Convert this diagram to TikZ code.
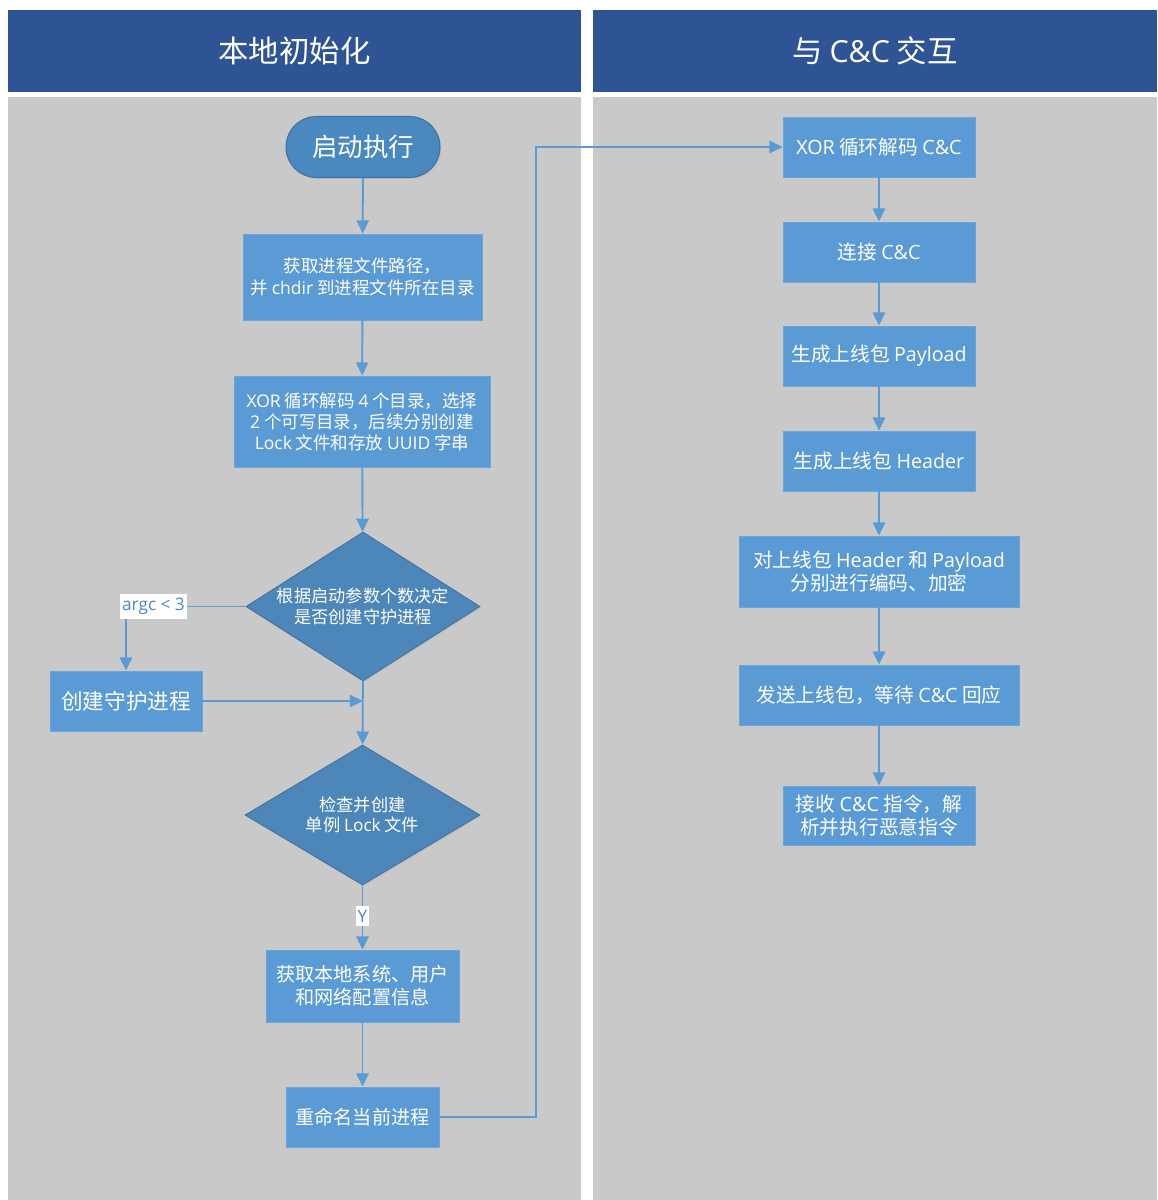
\documentclass[tikz,border=0pt]{standalone}
\usepackage{fontspec}
\setmainfont{Noto Sans CJK SC}
\newfontfamily\latinfont{Open Sans}
\newcommand\la[1]{{\latinfont #1}}
\usetikzlibrary{shapes.geometric,arrows.meta,shadows}

\definecolor{hdrBlue}{HTML}{2F5496}
\definecolor{laneGray}{HTML}{C9C9C9}
\definecolor{boxBlue}{HTML}{5B9BD5}
\definecolor{boxEdge}{HTML}{6AA5DB}
\definecolor{diaBlue}{HTML}{4D87BA}
\definecolor{diaEdge}{HTML}{41719C}
\definecolor{startBlue}{HTML}{4A89C0}
\definecolor{lineBlue}{HTML}{5B9BD5}
\definecolor{lblBlue}{HTML}{4F86C6}

\tikzset{
  hdr/.style={fill=hdrBlue, text=white, inner sep=0pt,
    font=\fontsize{17.3}{20}\selectfont},
  soft/.style={drop shadow={opacity=0.12, shadow xshift=0.8pt, shadow yshift=-0.8pt}},
  proc/.style={rectangle, fill=boxBlue, draw=boxEdge, line width=0.5pt, text=white,
    align=center, inner sep=1pt, soft, font=\fontsize{11.2}{13.6}\selectfont},
  startnode/.style={rectangle, rounded corners=0.61cm, fill=startBlue, draw=diaEdge,
    line width=0.6pt, text=white, soft, minimum width=3.08cm, minimum height=1.22cm,
    font=\fontsize{14.5}{17}\selectfont},
  dia/.style={diamond, fill=diaBlue, draw=diaEdge, line width=0.5pt, inner sep=0pt, soft},
  diatext/.style={text=white, align=center, inner sep=0pt,
    font=\fontsize{9.8}{11.6}\selectfont},
  flow/.style={draw=lineBlue, line width=1.1pt, -{Triangle[width=7pt,length=7.5pt]}},
  lbl/.style={fill=white, text=lblBlue, inner xsep=1pt, inner ysep=2.2pt,
    font=\latinfont\fontsize{9.8}{12}\selectfont}
}

\begin{document}
\begin{tikzpicture}[x=0.02cm, y=-0.02cm]
\useasboundingbox[fill=white] (0,0) rectangle (1157,1200);

% lane bodies
\fill[laneGray] (8,97) rectangle (581,1200);
\fill[laneGray] (593,97) rectangle (1157,1200);

% lane headers
\node[hdr, minimum width=11.46cm, minimum height=1.64cm] (hl) at (294.5,51) {本地初始化};
\node[hdr, minimum width=11.28cm, minimum height=1.64cm] (hr) at (875,51) {与 \la{C\&C} 交互};

% left lane: local initialisation
\node[startnode] (st) at (363,147) {启动执行};
\node[proc, minimum width=4.78cm, minimum height=1.72cm, font=\fontsize{9.95}{12.4}\selectfont]
  (p1) at (362.5,277) {获取进程文件路径，\\并 \la{chdir} 到进程文件所在目录};
\node[proc, minimum width=5.12cm, minimum height=1.82cm, font=\fontsize{9.95}{11.9}\selectfont]
  (p2) at (362,421.5) {\la{XOR} 循环解码 \la{4} 个目录，选择\\\la{2} 个可写目录，后续分别创建\\\la{Lock} 文件和存放 \la{UUID} 字串};
\node[dia, minimum width=4.68cm, minimum height=2.98cm] (d1) at (363,606.5) {};
\node[diatext] (d1t) at (d1) {根据启动参数个数决定\\是否创建守护进程};
\node[proc, minimum width=3.04cm, minimum height=1.2cm, font=\fontsize{12.3}{15}\selectfont]
  (cr) at (126,701) {创建守护进程};
\node[dia, minimum width=4.7cm, minimum height=2.8cm] (d2) at (362.5,815) {};
\node[diatext] (d2t) at (d2) {检查并创建\\单例 \la{Lock} 文件};
\node[proc, minimum width=3.86cm, minimum height=1.44cm, font=\fontsize{10.9}{13.2}\selectfont]
  (p3) at (362.5,986) {获取本地系统、用户\\和网络配置信息};
\node[proc, minimum width=3.06cm, minimum height=1.2cm, font=\fontsize{10.9}{13}\selectfont]
  (rn) at (362.5,1117) {重命名当前进程};

% right lane: C&C interaction
\node[proc, minimum width=3.84cm, minimum height=1.2cm] (c1) at (879,147) {\la{XOR} 循环解码 \la{C\&C}};
\node[proc, minimum width=3.84cm, minimum height=1.2cm] (c2) at (879,252) {连接 \la{C\&C}};
\node[proc, minimum width=3.84cm, minimum height=1.2cm] (c3) at (879,356) {生成上线包 \la{Payload}};
\node[proc, minimum width=3.84cm, minimum height=1.2cm] (c4) at (879,461) {生成上线包 \la{Header}};
\node[proc, minimum width=5.6cm, minimum height=1.42cm] (c5) at (879,571.5)
  {对上线包 \la{Header} 和 \la{Payload}\\分别进行编码、加密};
\node[proc, minimum width=5.6cm, minimum height=1.2cm] (c6) at (879,695) {发送上线包，等待 \la{C\&C} 回应};
\node[proc, minimum width=3.84cm, minimum height=1.18cm] (c7) at (879,815.5)
  {接收 \la{C\&C} 指令，解\\析并执行恶意指令};

% connectors, left lane
\draw[flow] (st) -- (p1);
\draw[flow] (p1) -- (p2);
\draw[flow] (p2) -- (d1);
\draw[flow] (d1.west) -| node[lbl, pos=0.385] (argc) {argc < 3} (cr.north);
\draw[flow] (d1) -- (d2);
\draw[flow] (cr.east) -- (cr.east -| d1.south);
\draw[flow] (d2) -- node[lbl, pos=0.48] (yes) {Y} (p3);
\draw[flow] (p3) -- (rn);

% connector across the lanes
\coordinate (jog) at (536,600);
\draw[flow] (rn.east) -| (jog) |- (c1.west);

% connectors, right lane
\draw[flow] (c1) -- (c2);
\draw[flow] (c2) -- (c3);
\draw[flow] (c3) -- (c4);
\draw[flow] (c4) -- (c5);
\draw[flow] (c5) -- (c6);
\draw[flow] (c6) -- (c7);
\end{tikzpicture}
\end{document}
